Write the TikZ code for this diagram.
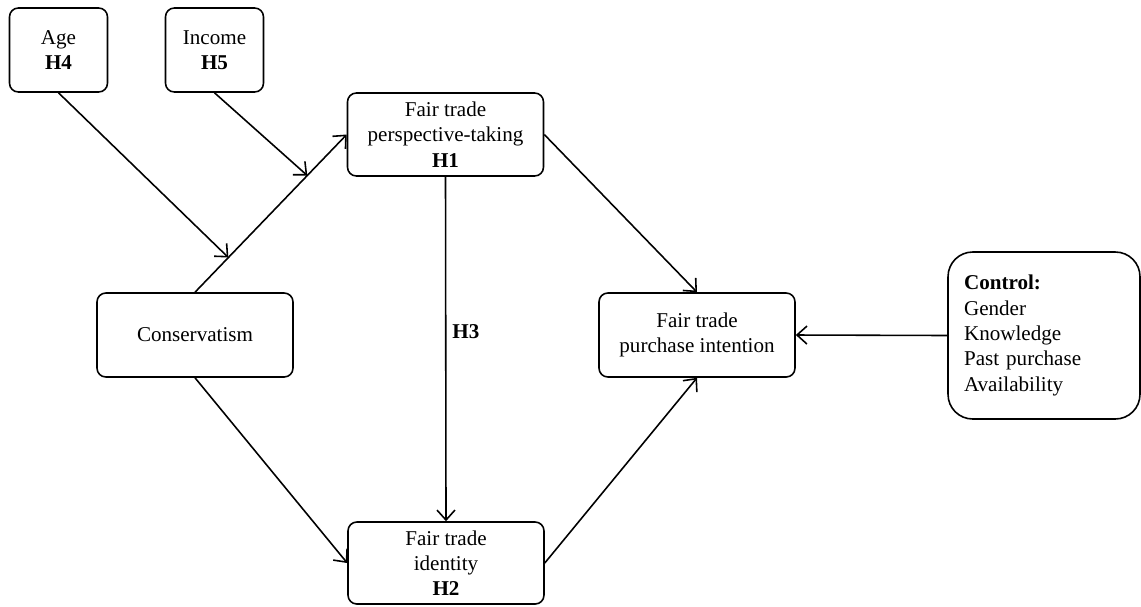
\documentclass[tikz,border=0pt]{standalone}
\usepackage{fontspec}
\setmainfont{Liberation Serif}
\usetikzlibrary{arrows.meta}
\begin{document}
\begin{tikzpicture}[
  x=0.02cm, y=-0.02cm,
  font=\fontsize{12}{14.4}\selectfont,
  box/.style={draw, line width=0.9pt, rounded corners=5pt, align=center, minimum width=3.92cm, minimum height=1.68cm},
  smallbox/.style={box, minimum width=1.96cm},
  arr/.style={line width=0.9pt, -{Straight Barb[length=2mm,width=3.6mm]}},
]
\path[use as bounding box] (0,0) rectangle (1141,606);

\node[smallbox] (age) at (58.5,50) {Age\\\textbf{H4}};
\node[smallbox] (income) at (214.5,50) {Income\\\textbf{H5}};
\node[box, minimum height=1.66cm] (persp) at (445.5,134.5) {Fair trade\\perspective-taking\\\textbf{H1}};
\node[box] (cons) at (195,335) {Conservatism};
\node[box] (intent) at (697,335) {Fair trade\\purchase intention};
\node[box, minimum height=1.64cm] (ident) at (446,563) {Fair trade\\identity\\\textbf{H2}};
\node[box, rounded corners=14pt, align=left, minimum width=3.84cm, minimum height=3.34cm,
  text width=3.2cm] (control) at (1044,335.5)
  {\textbf{Control:}\\Gender\\Knowledge\\Past purchase\\Availability};

\draw[arr] (cons.north) -- (persp.west) coordinate[pos=0.22] (agein) coordinate[pos=0.74] (incomein);
\draw[arr] (age.south) -- (agein);
\draw[arr] (income.south) -- (incomein);
\draw[arr] (persp.east) -- (intent.north);
\draw[arr] (persp.south) -- node[right, pos=0.45] {\textbf{H3}} (ident.north);
\draw[arr] (cons.south) -- (ident.west);
\draw[arr] (ident.east) -- (intent.south);
\draw[arr] (control.west) -- (intent.east);
\end{tikzpicture}
\end{document}
